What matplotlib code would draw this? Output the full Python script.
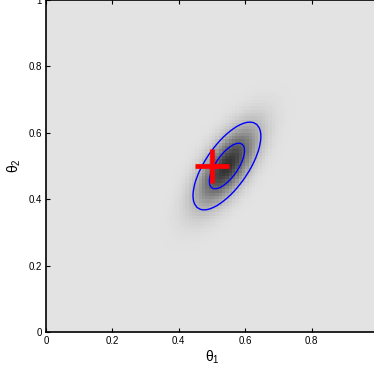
import numpy as np
import matplotlib
matplotlib.use("Agg")
import matplotlib.pyplot as plt
from matplotlib.colors import LinearSegmentedColormap, PowerNorm

# Posterior parameters
post_mean = [0.545, 0.500]
post_sigma = [0.051, 0.066]
post_rho = 0.68
contour_levels = [0.135, 0.58]   # fraction of peak density
true_theta = [0.5, 0.5]
n_grid = 100

xticks = [0, 0.2, 0.4, 0.6, 0.8]
yticks = [0, 0.2, 0.4, 0.6, 0.8, 1]
xticklabels = ["0", "0.2", "0.4", "0.6", "0.8"]
yticklabels = ["0", "0.2", "0.4", "0.6", "0.8", "1"]

plt.rcParams['font.family'] = ['Liberation Sans', 'DejaVu Sans']

edges = np.linspace(0, 1, n_grid + 1)
centers = 0.5 * (edges[:-1] + edges[1:])
X, Y = np.meshgrid(centers, centers)
sx, sy = post_sigma
dx = (X - post_mean[0]) / sx
dy = (Y - post_mean[1]) / sy
q = (dx**2 - 2 * post_rho * dx * dy + dy**2) / (1 - post_rho**2)
Z = np.exp(-0.5 * q)

fig = plt.figure(figsize=(3.74, 3.71), dpi=100)
ax = fig.add_axes([46/374, 39/371, 332/374, 332/371])
cmap = LinearSegmentedColormap.from_list("g", ["#e3e3e3", "#303030"])
ax.pcolormesh(edges, edges, Z, cmap=cmap, norm=PowerNorm(0.7, vmin=0, vmax=1),
              shading='flat')
ax.contour(X, Y, Z, levels=contour_levels, colors='#0000ff', linewidths=1.0)
ax.plot([true_theta[0]], [true_theta[1]], marker='+', color='#ff0000',
        markersize=24, markeredgewidth=3.4, linestyle='none')

ax.set_xlim(0, 1)
ax.set_ylim(0, 1)
ax.set_xticks(xticks)
ax.set_xticklabels(xticklabels)
ax.set_yticks(yticks)
ax.set_yticklabels(yticklabels)
ax.tick_params(direction='in', length=3, width=0.8, labelsize=7,
               top=True, right=True, pad=3)
for s in ax.spines.values():
    s.set_linewidth(1.2)
ax.set_xlabel(r'$\mathregular{θ_1}$', fontsize=10, labelpad=2)
ax.set_ylabel(r'$\mathregular{θ_2}$', fontsize=10, labelpad=4)

fig.savefig("out.png", dpi=100)
